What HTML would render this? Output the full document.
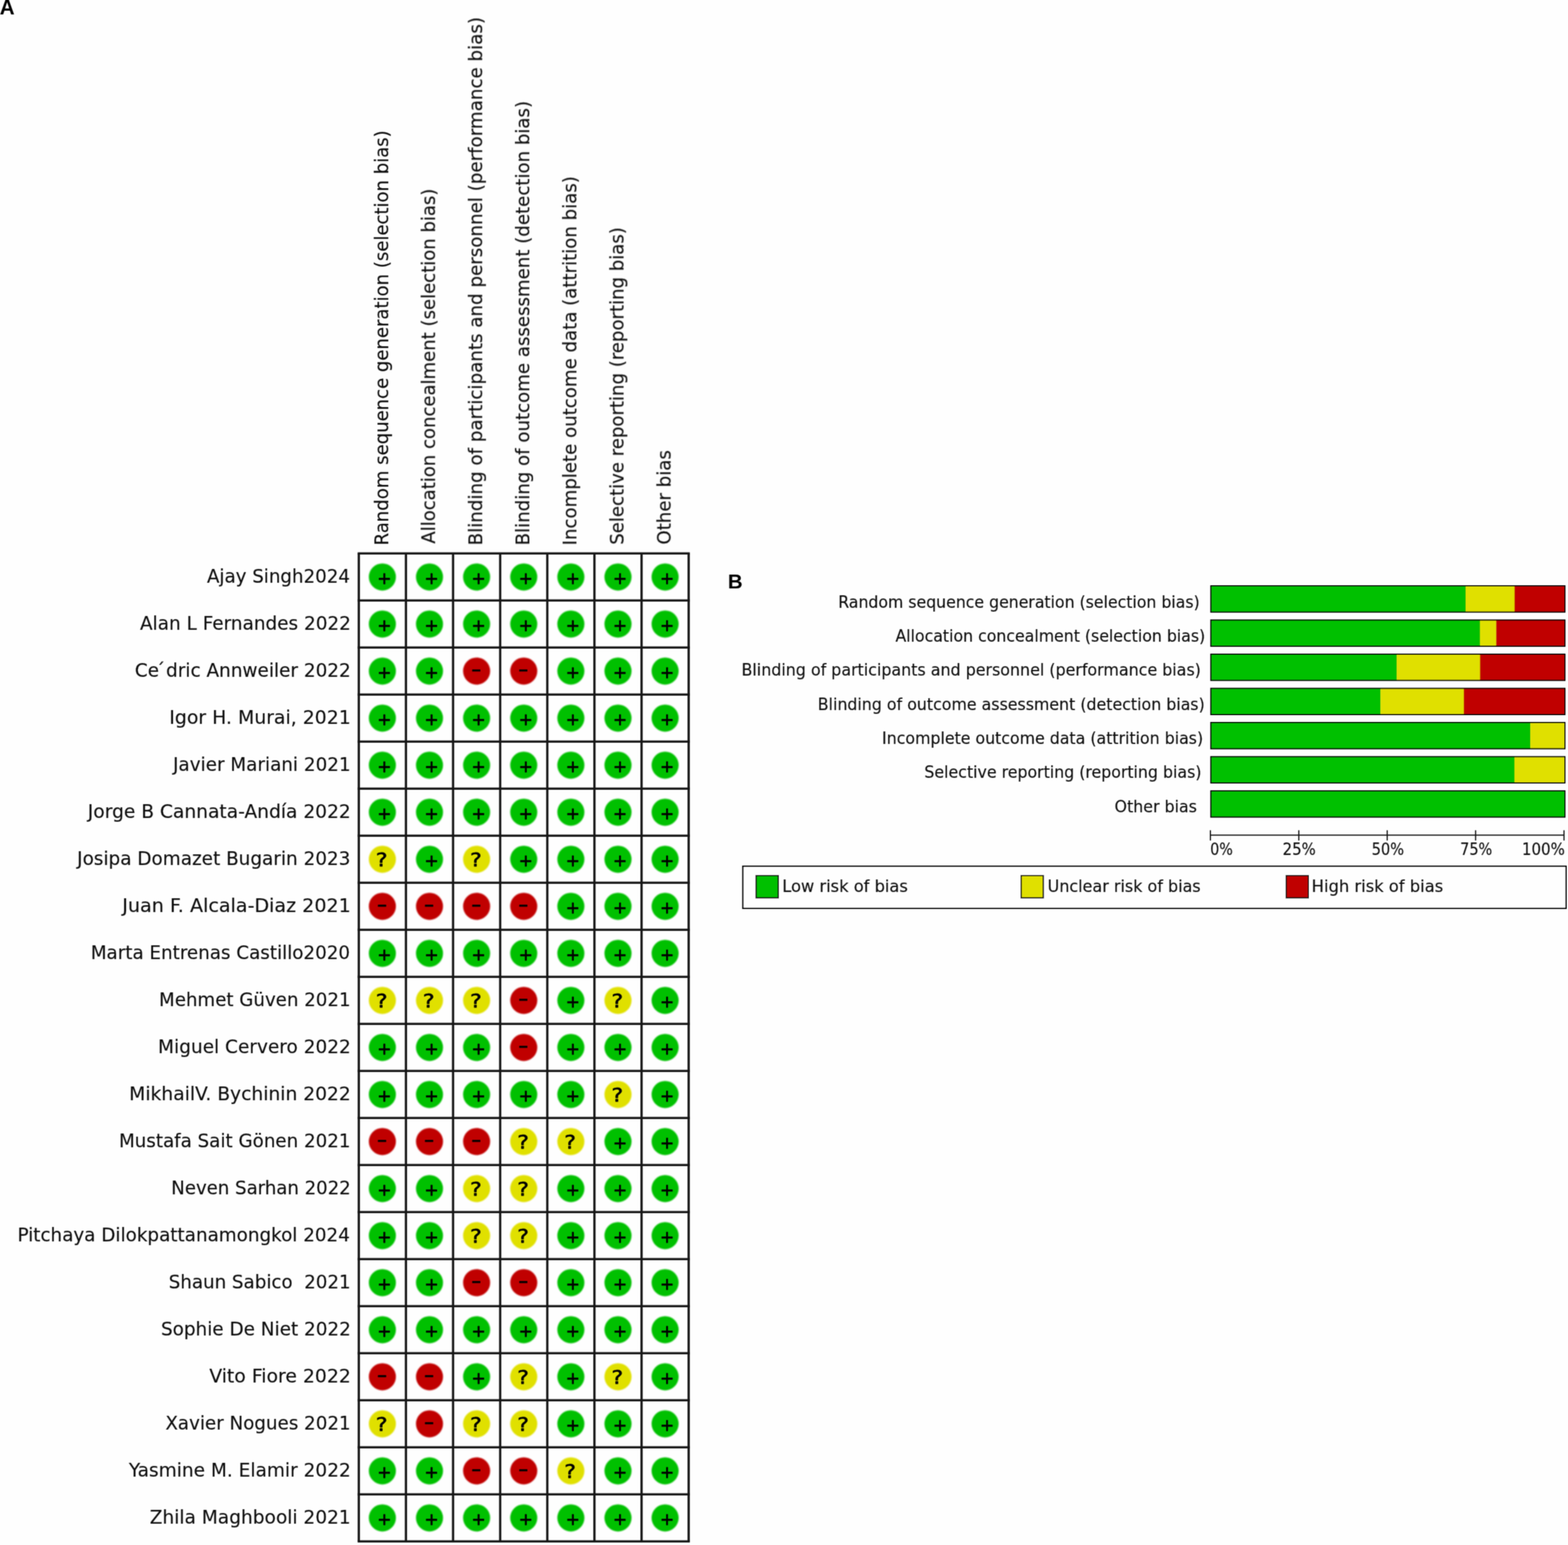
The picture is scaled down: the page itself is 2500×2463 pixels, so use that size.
<!DOCTYPE html>
<html lang="en">
<head>
<meta charset="utf-8">
<title>Risk of bias summary and graph</title>
<style>
html,body{margin:0;padding:0;background:#fefefe;}
body{width:2500px;height:2463px;overflow:hidden;}
svg{display:block;}
text{font-family:"DejaVu Sans", "Liberation Sans", sans-serif;fill:#111111;stroke:#111111;stroke-width:0.2px;white-space:pre;}
.r{font-size:30px;}
.s{font-size:27px;}
.k{font-family:"Liberation Sans", "DejaVu Sans", sans-serif;font-weight:bold;font-size:31px;fill:#000;stroke:none;}
.y{fill:#000;stroke:#000;stroke-width:0.85px;stroke-linejoin:round;}
.g line{stroke:#151515;stroke-width:3.6;}
.G{fill:#00c000;}.Y{fill:#e0e000;}.R{fill:#c00000;}
</style>
</head>
<body>
<svg width="2500" height="2463" viewBox="0 0 2500 2463" role="img" aria-label="Risk of bias summary and graph">
<defs>
<filter id="fa" filterUnits="userSpaceOnUse" x="0" y="0" width="2500" height="2463"><feGaussianBlur stdDeviation="0.8"/></filter>
<filter id="ft" filterUnits="userSpaceOnUse" x="0" y="0" width="2500" height="2463"><feConvolveMatrix order="3" kernelMatrix="0.0400 0.1200 0.0400 0.1200 0.3600 0.1200 0.0400 0.1200 0.0400" edgeMode="duplicate" preserveAlpha="false"/></filter>
<filter id="fb" filterUnits="userSpaceOnUse" x="0" y="0" width="2500" height="2463"><feConvolveMatrix order="3" kernelMatrix="0.0256 0.1088 0.0256 0.1088 0.4624 0.1088 0.0256 0.1088 0.0256" edgeMode="duplicate" preserveAlpha="false"/></filter>
</defs>
<rect width="2500" height="2463" fill="#fefefe"/>
<g id="panel-a">
<g id="panel-a-labels" filter="url(#ft)">
<text class="r" transform="translate(329.96 929.10) scale(0.9692 1)">Ajay Singh2024</text>
<text class="r" transform="translate(223.26 1004.10) scale(0.9794 1)">Alan L Fernandes 2022</text>
<text class="r" transform="translate(214.88 1079.10) scale(0.9802 1)">Ce<tspan dx="-5">´</tspan><tspan dx="1.5">dric Annweiler 2022</tspan></text>
<text class="r" transform="translate(269.99 1154.10) scale(1.0027 1)">Igor H. Murai, 2021</text>
<text class="r" transform="translate(275.96 1229.10) scale(0.9758 1)">Javier Mariani 2021</text>
<text class="r" transform="translate(140.09 1304.10) scale(0.9903 1)">Jorge B Cannata-Andía 2022</text>
<text class="r" transform="translate(122.97 1379.10) scale(0.9792 1)">Josipa Domazet Bugarin 2023</text>
<text class="r" transform="translate(195.02 1454.10) scale(1.0147 1)">Juan F. Alcala-Diaz 2021</text>
<text class="r" transform="translate(144.68 1529.10) scale(0.9730 1)">Marta Entrenas Castillo2020</text>
<text class="r" transform="translate(253.60 1604.10) scale(0.9677 1)">Mehmet Güven 2021</text>
<text class="r" transform="translate(252.05 1679.10) scale(0.9837 1)">Miguel Cervero 2022</text>
<text class="r" transform="translate(206.12 1754.10) scale(0.9933 1)">MikhailV. Bychinin 2022</text>
<text class="r" transform="translate(189.68 1829.10) scale(0.9717 1)">Mustafa Sait Gönen 2021</text>
<text class="r" transform="translate(273.11 1904.10) scale(0.9631 1)">Neven Sarhan 2022</text>
<text class="r" transform="translate(27.98 1979.10) scale(0.9747 1)">Pitchaya Dilokpattanamongkol 2024</text>
<text class="r" transform="translate(268.96 2054.10) scale(0.9706 1)">Shaun Sabico  2021</text>
<text class="r" transform="translate(256.64 2129.10) scale(0.9775 1)">Sophie De Niet 2022</text>
<text class="r" transform="translate(333.65 2204.10) scale(1.0004 1)">Vito Fiore 2022</text>
<text class="r" transform="translate(263.63 2279.10) scale(0.9714 1)">Xavier Nogues 2021</text>
<text class="r" transform="translate(205.50 2354.10) scale(0.9853 1)">Yasmine M. Elamir 2022</text>
<text class="r" transform="translate(238.77 2429.10) scale(0.9867 1)">Zhila Maghbooli 2021</text>
</g>
<g id="panel-a-heads" filter="url(#ft)">
<text class="r" transform="translate(618.56 869.38) rotate(-90) scale(0.9598 1)">Random sequence generation (selection bias)</text>
<text class="r" transform="translate(693.70 866.74) rotate(-90) scale(0.9596 1)">Allocation concealment (selection bias)</text>
<text class="r" transform="translate(768.82 869.41) rotate(-90) scale(0.9704 1)">Blinding of participants and personnel (performance bias)</text>
<text class="r" transform="translate(843.96 869.40) rotate(-90) scale(0.9656 1)">Blinding of outcome assessment (detection bias)</text>
<text class="r" transform="translate(919.08 869.40) rotate(-90) scale(0.9651 1)">Incomplete outcome data (attrition bias)</text>
<text class="r" transform="translate(994.22 868.42) rotate(-90) scale(0.9623 1)">Selective reporting (reporting bias)</text>
<text class="r" transform="translate(1069.35 868.19) rotate(-90) scale(0.9647 1)">Other bias</text>
</g>
<g class="g" id="grid" filter="url(#ft)">
<line x1="570.30" y1="882.30" x2="1099.81" y2="882.30" stroke="#303030"/>
<line x1="570.30" y1="957.30" x2="1099.81" y2="957.30"/>
<line x1="570.30" y1="1032.30" x2="1099.81" y2="1032.30"/>
<line x1="570.30" y1="1107.30" x2="1099.81" y2="1107.30"/>
<line x1="570.30" y1="1182.30" x2="1099.81" y2="1182.30"/>
<line x1="570.30" y1="1257.30" x2="1099.81" y2="1257.30"/>
<line x1="570.30" y1="1332.30" x2="1099.81" y2="1332.30"/>
<line x1="570.30" y1="1407.30" x2="1099.81" y2="1407.30"/>
<line x1="570.30" y1="1482.30" x2="1099.81" y2="1482.30"/>
<line x1="570.30" y1="1557.30" x2="1099.81" y2="1557.30"/>
<line x1="570.30" y1="1632.30" x2="1099.81" y2="1632.30"/>
<line x1="570.30" y1="1707.30" x2="1099.81" y2="1707.30"/>
<line x1="570.30" y1="1782.30" x2="1099.81" y2="1782.30"/>
<line x1="570.30" y1="1857.30" x2="1099.81" y2="1857.30"/>
<line x1="570.30" y1="1932.30" x2="1099.81" y2="1932.30"/>
<line x1="570.30" y1="2007.30" x2="1099.81" y2="2007.30"/>
<line x1="570.30" y1="2082.30" x2="1099.81" y2="2082.30"/>
<line x1="570.30" y1="2157.30" x2="1099.81" y2="2157.30"/>
<line x1="570.30" y1="2232.30" x2="1099.81" y2="2232.30"/>
<line x1="570.30" y1="2307.30" x2="1099.81" y2="2307.30"/>
<line x1="570.30" y1="2382.30" x2="1099.81" y2="2382.30"/>
<line x1="570.30" y1="2457.30" x2="1099.81" y2="2457.30" stroke="#7c7c7c"/>
<line x1="572.10" y1="882.30" x2="572.10" y2="2457.30" stroke="#303030"/>
<line x1="647.23" y1="882.30" x2="647.23" y2="2457.30"/>
<line x1="722.36" y1="882.30" x2="722.36" y2="2457.30"/>
<line x1="797.49" y1="882.30" x2="797.49" y2="2457.30"/>
<line x1="872.62" y1="882.30" x2="872.62" y2="2457.30"/>
<line x1="947.75" y1="882.30" x2="947.75" y2="2457.30"/>
<line x1="1022.88" y1="882.30" x2="1022.88" y2="2457.30"/>
<line x1="1098.01" y1="882.30" x2="1098.01" y2="2457.30" stroke="#303030"/>
</g>
<g id="dots" filter="url(#fa)">
<circle class="G" cx="609.66" cy="919.80" r="21.6"/><circle class="G" cx="684.80" cy="919.80" r="21.6"/><circle class="G" cx="759.92" cy="919.80" r="21.6"/><circle class="G" cx="835.06" cy="919.80" r="21.6"/><circle class="G" cx="910.18" cy="919.80" r="21.6"/><circle class="G" cx="985.32" cy="919.80" r="21.6"/><circle class="G" cx="1060.44" cy="919.80" r="21.6"/>
<circle class="G" cx="609.66" cy="994.80" r="21.6"/><circle class="G" cx="684.80" cy="994.80" r="21.6"/><circle class="G" cx="759.92" cy="994.80" r="21.6"/><circle class="G" cx="835.06" cy="994.80" r="21.6"/><circle class="G" cx="910.18" cy="994.80" r="21.6"/><circle class="G" cx="985.32" cy="994.80" r="21.6"/><circle class="G" cx="1060.44" cy="994.80" r="21.6"/>
<circle class="G" cx="609.66" cy="1069.80" r="21.6"/><circle class="G" cx="684.80" cy="1069.80" r="21.6"/><circle class="R" cx="759.92" cy="1069.80" r="21.6"/><circle class="R" cx="835.06" cy="1069.80" r="21.6"/><circle class="G" cx="910.18" cy="1069.80" r="21.6"/><circle class="G" cx="985.32" cy="1069.80" r="21.6"/><circle class="G" cx="1060.44" cy="1069.80" r="21.6"/>
<circle class="G" cx="609.66" cy="1144.80" r="21.6"/><circle class="G" cx="684.80" cy="1144.80" r="21.6"/><circle class="G" cx="759.92" cy="1144.80" r="21.6"/><circle class="G" cx="835.06" cy="1144.80" r="21.6"/><circle class="G" cx="910.18" cy="1144.80" r="21.6"/><circle class="G" cx="985.32" cy="1144.80" r="21.6"/><circle class="G" cx="1060.44" cy="1144.80" r="21.6"/>
<circle class="G" cx="609.66" cy="1219.80" r="21.6"/><circle class="G" cx="684.80" cy="1219.80" r="21.6"/><circle class="G" cx="759.92" cy="1219.80" r="21.6"/><circle class="G" cx="835.06" cy="1219.80" r="21.6"/><circle class="G" cx="910.18" cy="1219.80" r="21.6"/><circle class="G" cx="985.32" cy="1219.80" r="21.6"/><circle class="G" cx="1060.44" cy="1219.80" r="21.6"/>
<circle class="G" cx="609.66" cy="1294.80" r="21.6"/><circle class="G" cx="684.80" cy="1294.80" r="21.6"/><circle class="G" cx="759.92" cy="1294.80" r="21.6"/><circle class="G" cx="835.06" cy="1294.80" r="21.6"/><circle class="G" cx="910.18" cy="1294.80" r="21.6"/><circle class="G" cx="985.32" cy="1294.80" r="21.6"/><circle class="G" cx="1060.44" cy="1294.80" r="21.6"/>
<circle class="Y" cx="609.66" cy="1369.80" r="21.6"/><circle class="G" cx="684.80" cy="1369.80" r="21.6"/><circle class="Y" cx="759.92" cy="1369.80" r="21.6"/><circle class="G" cx="835.06" cy="1369.80" r="21.6"/><circle class="G" cx="910.18" cy="1369.80" r="21.6"/><circle class="G" cx="985.32" cy="1369.80" r="21.6"/><circle class="G" cx="1060.44" cy="1369.80" r="21.6"/>
<circle class="R" cx="609.66" cy="1444.80" r="21.6"/><circle class="R" cx="684.80" cy="1444.80" r="21.6"/><circle class="R" cx="759.92" cy="1444.80" r="21.6"/><circle class="R" cx="835.06" cy="1444.80" r="21.6"/><circle class="G" cx="910.18" cy="1444.80" r="21.6"/><circle class="G" cx="985.32" cy="1444.80" r="21.6"/><circle class="G" cx="1060.44" cy="1444.80" r="21.6"/>
<circle class="G" cx="609.66" cy="1519.80" r="21.6"/><circle class="G" cx="684.80" cy="1519.80" r="21.6"/><circle class="G" cx="759.92" cy="1519.80" r="21.6"/><circle class="G" cx="835.06" cy="1519.80" r="21.6"/><circle class="G" cx="910.18" cy="1519.80" r="21.6"/><circle class="G" cx="985.32" cy="1519.80" r="21.6"/><circle class="G" cx="1060.44" cy="1519.80" r="21.6"/>
<circle class="Y" cx="609.66" cy="1594.80" r="21.6"/><circle class="Y" cx="684.80" cy="1594.80" r="21.6"/><circle class="Y" cx="759.92" cy="1594.80" r="21.6"/><circle class="R" cx="835.06" cy="1594.80" r="21.6"/><circle class="G" cx="910.18" cy="1594.80" r="21.6"/><circle class="Y" cx="985.32" cy="1594.80" r="21.6"/><circle class="G" cx="1060.44" cy="1594.80" r="21.6"/>
<circle class="G" cx="609.66" cy="1669.80" r="21.6"/><circle class="G" cx="684.80" cy="1669.80" r="21.6"/><circle class="G" cx="759.92" cy="1669.80" r="21.6"/><circle class="R" cx="835.06" cy="1669.80" r="21.6"/><circle class="G" cx="910.18" cy="1669.80" r="21.6"/><circle class="G" cx="985.32" cy="1669.80" r="21.6"/><circle class="G" cx="1060.44" cy="1669.80" r="21.6"/>
<circle class="G" cx="609.66" cy="1744.80" r="21.6"/><circle class="G" cx="684.80" cy="1744.80" r="21.6"/><circle class="G" cx="759.92" cy="1744.80" r="21.6"/><circle class="G" cx="835.06" cy="1744.80" r="21.6"/><circle class="G" cx="910.18" cy="1744.80" r="21.6"/><circle class="Y" cx="985.32" cy="1744.80" r="21.6"/><circle class="G" cx="1060.44" cy="1744.80" r="21.6"/>
<circle class="R" cx="609.66" cy="1819.80" r="21.6"/><circle class="R" cx="684.80" cy="1819.80" r="21.6"/><circle class="R" cx="759.92" cy="1819.80" r="21.6"/><circle class="Y" cx="835.06" cy="1819.80" r="21.6"/><circle class="Y" cx="910.18" cy="1819.80" r="21.6"/><circle class="G" cx="985.32" cy="1819.80" r="21.6"/><circle class="G" cx="1060.44" cy="1819.80" r="21.6"/>
<circle class="G" cx="609.66" cy="1894.80" r="21.6"/><circle class="G" cx="684.80" cy="1894.80" r="21.6"/><circle class="Y" cx="759.92" cy="1894.80" r="21.6"/><circle class="Y" cx="835.06" cy="1894.80" r="21.6"/><circle class="G" cx="910.18" cy="1894.80" r="21.6"/><circle class="G" cx="985.32" cy="1894.80" r="21.6"/><circle class="G" cx="1060.44" cy="1894.80" r="21.6"/>
<circle class="G" cx="609.66" cy="1969.80" r="21.6"/><circle class="G" cx="684.80" cy="1969.80" r="21.6"/><circle class="Y" cx="759.92" cy="1969.80" r="21.6"/><circle class="Y" cx="835.06" cy="1969.80" r="21.6"/><circle class="G" cx="910.18" cy="1969.80" r="21.6"/><circle class="G" cx="985.32" cy="1969.80" r="21.6"/><circle class="G" cx="1060.44" cy="1969.80" r="21.6"/>
<circle class="G" cx="609.66" cy="2044.80" r="21.6"/><circle class="G" cx="684.80" cy="2044.80" r="21.6"/><circle class="R" cx="759.92" cy="2044.80" r="21.6"/><circle class="R" cx="835.06" cy="2044.80" r="21.6"/><circle class="G" cx="910.18" cy="2044.80" r="21.6"/><circle class="G" cx="985.32" cy="2044.80" r="21.6"/><circle class="G" cx="1060.44" cy="2044.80" r="21.6"/>
<circle class="G" cx="609.66" cy="2119.80" r="21.6"/><circle class="G" cx="684.80" cy="2119.80" r="21.6"/><circle class="G" cx="759.92" cy="2119.80" r="21.6"/><circle class="G" cx="835.06" cy="2119.80" r="21.6"/><circle class="G" cx="910.18" cy="2119.80" r="21.6"/><circle class="G" cx="985.32" cy="2119.80" r="21.6"/><circle class="G" cx="1060.44" cy="2119.80" r="21.6"/>
<circle class="R" cx="609.66" cy="2194.80" r="21.6"/><circle class="R" cx="684.80" cy="2194.80" r="21.6"/><circle class="G" cx="759.92" cy="2194.80" r="21.6"/><circle class="Y" cx="835.06" cy="2194.80" r="21.6"/><circle class="G" cx="910.18" cy="2194.80" r="21.6"/><circle class="Y" cx="985.32" cy="2194.80" r="21.6"/><circle class="G" cx="1060.44" cy="2194.80" r="21.6"/>
<circle class="Y" cx="609.66" cy="2269.80" r="21.6"/><circle class="R" cx="684.80" cy="2269.80" r="21.6"/><circle class="Y" cx="759.92" cy="2269.80" r="21.6"/><circle class="Y" cx="835.06" cy="2269.80" r="21.6"/><circle class="G" cx="910.18" cy="2269.80" r="21.6"/><circle class="G" cx="985.32" cy="2269.80" r="21.6"/><circle class="G" cx="1060.44" cy="2269.80" r="21.6"/>
<circle class="G" cx="609.66" cy="2344.80" r="21.6"/><circle class="G" cx="684.80" cy="2344.80" r="21.6"/><circle class="R" cx="759.92" cy="2344.80" r="21.6"/><circle class="R" cx="835.06" cy="2344.80" r="21.6"/><circle class="Y" cx="910.18" cy="2344.80" r="21.6"/><circle class="G" cx="985.32" cy="2344.80" r="21.6"/><circle class="G" cx="1060.44" cy="2344.80" r="21.6"/>
<circle class="G" cx="609.66" cy="2419.80" r="21.6"/><circle class="G" cx="684.80" cy="2419.80" r="21.6"/><circle class="G" cx="759.92" cy="2419.80" r="21.6"/><circle class="G" cx="835.06" cy="2419.80" r="21.6"/><circle class="G" cx="910.18" cy="2419.80" r="21.6"/><circle class="G" cx="985.32" cy="2419.80" r="21.6"/><circle class="G" cx="1060.44" cy="2419.80" r="21.6"/>
</g>
<g id="marks" filter="url(#ft)">
<text class="y" font-size="26" transform="translate(601.50 930.52) scale(1.0400 1)">+</text>
<text class="y" font-size="26" transform="translate(676.64 930.52) scale(1.0400 1)">+</text>
<text class="y" font-size="26" transform="translate(751.76 930.52) scale(1.0400 1)">+</text>
<text class="y" font-size="26" transform="translate(826.90 930.52) scale(1.0400 1)">+</text>
<text class="y" font-size="26" transform="translate(902.02 930.52) scale(1.0400 1)">+</text>
<text class="y" font-size="26" transform="translate(977.16 930.52) scale(1.0400 1)">+</text>
<text class="y" font-size="26" transform="translate(1052.29 930.52) scale(1.0400 1)">+</text>
<text class="y" font-size="26" transform="translate(601.50 1005.52) scale(1.0400 1)">+</text>
<text class="y" font-size="26" transform="translate(676.64 1005.52) scale(1.0400 1)">+</text>
<text class="y" font-size="26" transform="translate(751.76 1005.52) scale(1.0400 1)">+</text>
<text class="y" font-size="26" transform="translate(826.90 1005.52) scale(1.0400 1)">+</text>
<text class="y" font-size="26" transform="translate(902.02 1005.52) scale(1.0400 1)">+</text>
<text class="y" font-size="26" transform="translate(977.16 1005.52) scale(1.0400 1)">+</text>
<text class="y" font-size="26" transform="translate(1052.29 1005.52) scale(1.0400 1)">+</text>
<text class="y" font-size="26" transform="translate(601.50 1080.52) scale(1.0400 1)">+</text>
<text class="y" font-size="26" transform="translate(676.64 1080.52) scale(1.0400 1)">+</text>
<text class="y" font-size="26" transform="translate(750.91 1077.22) scale(0.7692 1)">−</text>
<text class="y" font-size="26" transform="translate(826.04 1077.22) scale(0.7692 1)">−</text>
<text class="y" font-size="26" transform="translate(902.02 1080.52) scale(1.0400 1)">+</text>
<text class="y" font-size="26" transform="translate(977.16 1080.52) scale(1.0400 1)">+</text>
<text class="y" font-size="26" transform="translate(1052.29 1080.52) scale(1.0400 1)">+</text>
<text class="y" font-size="26" transform="translate(601.50 1155.52) scale(1.0400 1)">+</text>
<text class="y" font-size="26" transform="translate(676.64 1155.52) scale(1.0400 1)">+</text>
<text class="y" font-size="26" transform="translate(751.76 1155.52) scale(1.0400 1)">+</text>
<text class="y" font-size="26" transform="translate(826.90 1155.52) scale(1.0400 1)">+</text>
<text class="y" font-size="26" transform="translate(902.02 1155.52) scale(1.0400 1)">+</text>
<text class="y" font-size="26" transform="translate(977.16 1155.52) scale(1.0400 1)">+</text>
<text class="y" font-size="26" transform="translate(1052.29 1155.52) scale(1.0400 1)">+</text>
<text class="y" font-size="26" transform="translate(601.50 1230.52) scale(1.0400 1)">+</text>
<text class="y" font-size="26" transform="translate(676.64 1230.52) scale(1.0400 1)">+</text>
<text class="y" font-size="26" transform="translate(751.76 1230.52) scale(1.0400 1)">+</text>
<text class="y" font-size="26" transform="translate(826.90 1230.52) scale(1.0400 1)">+</text>
<text class="y" font-size="26" transform="translate(902.02 1230.52) scale(1.0400 1)">+</text>
<text class="y" font-size="26" transform="translate(977.16 1230.52) scale(1.0400 1)">+</text>
<text class="y" font-size="26" transform="translate(1052.29 1230.52) scale(1.0400 1)">+</text>
<text class="y" font-size="26" transform="translate(601.50 1305.52) scale(1.0400 1)">+</text>
<text class="y" font-size="26" transform="translate(676.64 1305.52) scale(1.0400 1)">+</text>
<text class="y" font-size="26" transform="translate(751.76 1305.52) scale(1.0400 1)">+</text>
<text class="y" font-size="26" transform="translate(826.90 1305.52) scale(1.0400 1)">+</text>
<text class="y" font-size="26" transform="translate(902.02 1305.52) scale(1.0400 1)">+</text>
<text class="y" font-size="26" transform="translate(977.16 1305.52) scale(1.0400 1)">+</text>
<text class="y" font-size="26" transform="translate(1052.29 1305.52) scale(1.0400 1)">+</text>
<text class="y" font-size="30" transform="translate(599.24 1381.12) scale(1.1652 1)">?</text>
<text class="y" font-size="26" transform="translate(676.64 1380.52) scale(1.0400 1)">+</text>
<text class="y" font-size="30" transform="translate(749.50 1381.12) scale(1.1652 1)">?</text>
<text class="y" font-size="26" transform="translate(826.90 1380.52) scale(1.0400 1)">+</text>
<text class="y" font-size="26" transform="translate(902.02 1380.52) scale(1.0400 1)">+</text>
<text class="y" font-size="26" transform="translate(977.16 1380.52) scale(1.0400 1)">+</text>
<text class="y" font-size="26" transform="translate(1052.29 1380.52) scale(1.0400 1)">+</text>
<text class="y" font-size="26" transform="translate(600.65 1452.22) scale(0.7692 1)">−</text>
<text class="y" font-size="26" transform="translate(675.78 1452.22) scale(0.7692 1)">−</text>
<text class="y" font-size="26" transform="translate(750.91 1452.22) scale(0.7692 1)">−</text>
<text class="y" font-size="26" transform="translate(826.04 1452.22) scale(0.7692 1)">−</text>
<text class="y" font-size="26" transform="translate(902.02 1455.52) scale(1.0400 1)">+</text>
<text class="y" font-size="26" transform="translate(977.16 1455.52) scale(1.0400 1)">+</text>
<text class="y" font-size="26" transform="translate(1052.29 1455.52) scale(1.0400 1)">+</text>
<text class="y" font-size="26" transform="translate(601.50 1530.52) scale(1.0400 1)">+</text>
<text class="y" font-size="26" transform="translate(676.64 1530.52) scale(1.0400 1)">+</text>
<text class="y" font-size="26" transform="translate(751.76 1530.52) scale(1.0400 1)">+</text>
<text class="y" font-size="26" transform="translate(826.90 1530.52) scale(1.0400 1)">+</text>
<text class="y" font-size="26" transform="translate(902.02 1530.52) scale(1.0400 1)">+</text>
<text class="y" font-size="26" transform="translate(977.16 1530.52) scale(1.0400 1)">+</text>
<text class="y" font-size="26" transform="translate(1052.29 1530.52) scale(1.0400 1)">+</text>
<text class="y" font-size="30" transform="translate(599.24 1606.12) scale(1.1652 1)">?</text>
<text class="y" font-size="30" transform="translate(674.37 1606.12) scale(1.1652 1)">?</text>
<text class="y" font-size="30" transform="translate(749.50 1606.12) scale(1.1652 1)">?</text>
<text class="y" font-size="26" transform="translate(826.04 1602.22) scale(0.7692 1)">−</text>
<text class="y" font-size="26" transform="translate(902.02 1605.52) scale(1.0400 1)">+</text>
<text class="y" font-size="30" transform="translate(974.89 1606.12) scale(1.1652 1)">?</text>
<text class="y" font-size="26" transform="translate(1052.29 1605.52) scale(1.0400 1)">+</text>
<text class="y" font-size="26" transform="translate(601.50 1680.52) scale(1.0400 1)">+</text>
<text class="y" font-size="26" transform="translate(676.64 1680.52) scale(1.0400 1)">+</text>
<text class="y" font-size="26" transform="translate(751.76 1680.52) scale(1.0400 1)">+</text>
<text class="y" font-size="26" transform="translate(826.04 1677.22) scale(0.7692 1)">−</text>
<text class="y" font-size="26" transform="translate(902.02 1680.52) scale(1.0400 1)">+</text>
<text class="y" font-size="26" transform="translate(977.16 1680.52) scale(1.0400 1)">+</text>
<text class="y" font-size="26" transform="translate(1052.29 1680.52) scale(1.0400 1)">+</text>
<text class="y" font-size="26" transform="translate(601.50 1755.52) scale(1.0400 1)">+</text>
<text class="y" font-size="26" transform="translate(676.64 1755.52) scale(1.0400 1)">+</text>
<text class="y" font-size="26" transform="translate(751.76 1755.52) scale(1.0400 1)">+</text>
<text class="y" font-size="26" transform="translate(826.90 1755.52) scale(1.0400 1)">+</text>
<text class="y" font-size="26" transform="translate(902.02 1755.52) scale(1.0400 1)">+</text>
<text class="y" font-size="30" transform="translate(974.89 1756.12) scale(1.1652 1)">?</text>
<text class="y" font-size="26" transform="translate(1052.29 1755.52) scale(1.0400 1)">+</text>
<text class="y" font-size="26" transform="translate(600.65 1827.22) scale(0.7692 1)">−</text>
<text class="y" font-size="26" transform="translate(675.78 1827.22) scale(0.7692 1)">−</text>
<text class="y" font-size="26" transform="translate(750.91 1827.22) scale(0.7692 1)">−</text>
<text class="y" font-size="30" transform="translate(824.63 1831.12) scale(1.1652 1)">?</text>
<text class="y" font-size="30" transform="translate(899.76 1831.12) scale(1.1652 1)">?</text>
<text class="y" font-size="26" transform="translate(977.16 1830.52) scale(1.0400 1)">+</text>
<text class="y" font-size="26" transform="translate(1052.29 1830.52) scale(1.0400 1)">+</text>
<text class="y" font-size="26" transform="translate(601.50 1905.52) scale(1.0400 1)">+</text>
<text class="y" font-size="26" transform="translate(676.64 1905.52) scale(1.0400 1)">+</text>
<text class="y" font-size="30" transform="translate(749.50 1906.12) scale(1.1652 1)">?</text>
<text class="y" font-size="30" transform="translate(824.63 1906.12) scale(1.1652 1)">?</text>
<text class="y" font-size="26" transform="translate(902.02 1905.52) scale(1.0400 1)">+</text>
<text class="y" font-size="26" transform="translate(977.16 1905.52) scale(1.0400 1)">+</text>
<text class="y" font-size="26" transform="translate(1052.29 1905.52) scale(1.0400 1)">+</text>
<text class="y" font-size="26" transform="translate(601.50 1980.52) scale(1.0400 1)">+</text>
<text class="y" font-size="26" transform="translate(676.64 1980.52) scale(1.0400 1)">+</text>
<text class="y" font-size="30" transform="translate(749.50 1981.12) scale(1.1652 1)">?</text>
<text class="y" font-size="30" transform="translate(824.63 1981.12) scale(1.1652 1)">?</text>
<text class="y" font-size="26" transform="translate(902.02 1980.52) scale(1.0400 1)">+</text>
<text class="y" font-size="26" transform="translate(977.16 1980.52) scale(1.0400 1)">+</text>
<text class="y" font-size="26" transform="translate(1052.29 1980.52) scale(1.0400 1)">+</text>
<text class="y" font-size="26" transform="translate(601.50 2055.52) scale(1.0400 1)">+</text>
<text class="y" font-size="26" transform="translate(676.64 2055.52) scale(1.0400 1)">+</text>
<text class="y" font-size="26" transform="translate(750.91 2052.22) scale(0.7692 1)">−</text>
<text class="y" font-size="26" transform="translate(826.04 2052.22) scale(0.7692 1)">−</text>
<text class="y" font-size="26" transform="translate(902.02 2055.52) scale(1.0400 1)">+</text>
<text class="y" font-size="26" transform="translate(977.16 2055.52) scale(1.0400 1)">+</text>
<text class="y" font-size="26" transform="translate(1052.29 2055.52) scale(1.0400 1)">+</text>
<text class="y" font-size="26" transform="translate(601.50 2130.53) scale(1.0400 1)">+</text>
<text class="y" font-size="26" transform="translate(676.64 2130.53) scale(1.0400 1)">+</text>
<text class="y" font-size="26" transform="translate(751.76 2130.53) scale(1.0400 1)">+</text>
<text class="y" font-size="26" transform="translate(826.90 2130.53) scale(1.0400 1)">+</text>
<text class="y" font-size="26" transform="translate(902.02 2130.53) scale(1.0400 1)">+</text>
<text class="y" font-size="26" transform="translate(977.16 2130.53) scale(1.0400 1)">+</text>
<text class="y" font-size="26" transform="translate(1052.29 2130.53) scale(1.0400 1)">+</text>
<text class="y" font-size="26" transform="translate(600.65 2202.23) scale(0.7692 1)">−</text>
<text class="y" font-size="26" transform="translate(675.78 2202.23) scale(0.7692 1)">−</text>
<text class="y" font-size="26" transform="translate(751.76 2205.53) scale(1.0400 1)">+</text>
<text class="y" font-size="30" transform="translate(824.63 2206.12) scale(1.1652 1)">?</text>
<text class="y" font-size="26" transform="translate(902.02 2205.53) scale(1.0400 1)">+</text>
<text class="y" font-size="30" transform="translate(974.89 2206.12) scale(1.1652 1)">?</text>
<text class="y" font-size="26" transform="translate(1052.29 2205.53) scale(1.0400 1)">+</text>
<text class="y" font-size="30" transform="translate(599.24 2281.12) scale(1.1652 1)">?</text>
<text class="y" font-size="26" transform="translate(675.78 2277.23) scale(0.7692 1)">−</text>
<text class="y" font-size="30" transform="translate(749.50 2281.12) scale(1.1652 1)">?</text>
<text class="y" font-size="30" transform="translate(824.63 2281.12) scale(1.1652 1)">?</text>
<text class="y" font-size="26" transform="translate(902.02 2280.53) scale(1.0400 1)">+</text>
<text class="y" font-size="26" transform="translate(977.16 2280.53) scale(1.0400 1)">+</text>
<text class="y" font-size="26" transform="translate(1052.29 2280.53) scale(1.0400 1)">+</text>
<text class="y" font-size="26" transform="translate(601.50 2355.53) scale(1.0400 1)">+</text>
<text class="y" font-size="26" transform="translate(676.64 2355.53) scale(1.0400 1)">+</text>
<text class="y" font-size="26" transform="translate(750.91 2352.23) scale(0.7692 1)">−</text>
<text class="y" font-size="26" transform="translate(826.04 2352.23) scale(0.7692 1)">−</text>
<text class="y" font-size="30" transform="translate(899.76 2356.12) scale(1.1652 1)">?</text>
<text class="y" font-size="26" transform="translate(977.16 2355.53) scale(1.0400 1)">+</text>
<text class="y" font-size="26" transform="translate(1052.29 2355.53) scale(1.0400 1)">+</text>
<text class="y" font-size="26" transform="translate(601.50 2430.53) scale(1.0400 1)">+</text>
<text class="y" font-size="26" transform="translate(676.64 2430.53) scale(1.0400 1)">+</text>
<text class="y" font-size="26" transform="translate(751.76 2430.53) scale(1.0400 1)">+</text>
<text class="y" font-size="26" transform="translate(826.90 2430.53) scale(1.0400 1)">+</text>
<text class="y" font-size="26" transform="translate(902.02 2430.53) scale(1.0400 1)">+</text>
<text class="y" font-size="26" transform="translate(977.16 2430.53) scale(1.0400 1)">+</text>
<text class="y" font-size="26" transform="translate(1052.29 2430.53) scale(1.0400 1)">+</text>
</g>
<g filter="url(#ft)"><text class="k" transform="translate(-0.60 22.80) scale(1.0651 1.06)">A</text>
</g>
</g>
<g id="panel-b">
<g id="panel-b-labels" filter="url(#ft)">
<text class="s" transform="translate(1336.45 968.60) scale(0.9288 1)">Random sequence generation (selection bias)</text>
<text class="s" transform="translate(1427.67 1022.97) scale(0.9306 1)">Allocation concealment (selection bias)</text>
<text class="s" transform="translate(1182.22 1077.34) scale(0.9379 1)">Blinding of participants and personnel (performance bias)</text>
<text class="s" transform="translate(1303.83 1131.71) scale(0.9343 1)">Blinding of outcome assessment (detection bias)</text>
<text class="s" transform="translate(1406.34 1186.08) scale(0.9325 1)">Incomplete outcome data (attrition bias)</text>
<text class="s" transform="translate(1473.87 1240.45) scale(0.9326 1)">Selective reporting (reporting bias)</text>
<text class="s" transform="translate(1777.10 1294.82) scale(0.9358 1)">Other bias</text>
</g>
<g id="bars" filter="url(#fb)">
<rect class="G" x="1930.60" y="934.00" width="406.70" height="41.70"/><rect class="Y" x="2337.00" y="934.00" width="78.00" height="41.70"/><rect class="R" x="2414.70" y="934.00" width="80.30" height="41.70"/><rect x="1930.60" y="934.00" width="564.40" height="41.70" fill="none" stroke="#000" stroke-width="1.9"/>
<rect class="G" x="1930.60" y="988.47" width="429.40" height="41.70"/><rect class="Y" x="2359.70" y="988.47" width="26.10" height="41.70"/><rect class="R" x="2385.50" y="988.47" width="109.50" height="41.70"/><rect x="1930.60" y="988.47" width="564.40" height="41.70" fill="none" stroke="#000" stroke-width="1.9"/>
<rect class="G" x="1930.60" y="1042.94" width="296.80" height="41.70"/><rect class="Y" x="2227.10" y="1042.94" width="132.90" height="41.70"/><rect class="R" x="2359.70" y="1042.94" width="135.30" height="41.70"/><rect x="1930.60" y="1042.94" width="564.40" height="41.70" fill="none" stroke="#000" stroke-width="1.9"/>
<rect class="G" x="1930.60" y="1097.41" width="270.90" height="41.70"/><rect class="Y" x="2201.20" y="1097.41" width="132.90" height="41.70"/><rect class="R" x="2333.80" y="1097.41" width="161.20" height="41.70"/><rect x="1930.60" y="1097.41" width="564.40" height="41.70" fill="none" stroke="#000" stroke-width="1.9"/>
<rect class="G" x="1930.60" y="1151.88" width="509.80" height="41.70"/><rect class="Y" x="2440.10" y="1151.88" width="54.90" height="41.70"/><rect x="1930.60" y="1151.88" width="564.40" height="41.70" fill="none" stroke="#000" stroke-width="1.9"/>
<rect class="G" x="1930.60" y="1206.35" width="484.40" height="41.70"/><rect class="Y" x="2414.70" y="1206.35" width="80.30" height="41.70"/><rect x="1930.60" y="1206.35" width="564.40" height="41.70" fill="none" stroke="#000" stroke-width="1.9"/>
<rect class="G" x="1930.60" y="1260.82" width="564.40" height="41.70"/><rect x="1930.60" y="1260.82" width="564.40" height="41.70" fill="none" stroke="#000" stroke-width="1.9"/>
</g>
<g id="axis" stroke="#0a0a0a" stroke-width="1.8" fill="none" filter="url(#fb)">
<line x1="1929.8" y1="1331.4" x2="2493.6" y2="1331.4"/>
<line x1="1929.80" y1="1323.6" x2="1929.80" y2="1339.9"/>
<line x1="2070.75" y1="1323.6" x2="2070.75" y2="1339.9"/>
<line x1="2211.70" y1="1323.6" x2="2211.70" y2="1339.9"/>
<line x1="2352.65" y1="1323.6" x2="2352.65" y2="1339.9"/>
<line x1="2493.60" y1="1323.6" x2="2493.60" y2="1339.9"/>
</g>
<g id="axis-labels" filter="url(#ft)">
<text class="s" transform="translate(1929.52 1362.90) scale(0.8430 1)">0%</text>
<text class="s" transform="translate(2045.04 1362.90) scale(0.8796 1)">25%</text>
<text class="s" transform="translate(2186.98 1362.90) scale(0.8619 1)">50%</text>
<text class="s" transform="translate(2327.98 1362.90) scale(0.8551 1)">75%</text>
<text class="s" transform="translate(2426.54 1362.90) scale(0.8880 1)">100%</text>
</g>
<g id="legend-box" filter="url(#fb)">
<rect x="1184.4" y="1381.0" width="1312.5" height="67.0" fill="#fefefe" stroke="#000" stroke-width="2.2"/>
<rect x="1205.6" y="1395.9" width="35.2" height="35.4" fill="#00c000" stroke="#000" stroke-width="2"/>
<rect x="1628.2" y="1395.9" width="35.2" height="35.4" fill="#e0e000" stroke="#000" stroke-width="2"/>
<rect x="2050.8" y="1395.9" width="35.2" height="35.4" fill="#c00000" stroke="#000" stroke-width="2"/>
</g>
<g id="legend-labels" filter="url(#ft)">
<text class="s" transform="translate(1247.16 1421.90) scale(0.9614 1)">Low risk of bias</text>
<text class="s" transform="translate(1670.28 1421.90) scale(0.9434 1)">Unclear risk of bias</text>
<text class="s" transform="translate(2091.35 1421.90) scale(0.9651 1)">High risk of bias</text>
<text class="k" transform="translate(1160.49 937.60) scale(1.0526 1)">B</text>
</g>
</g>
</svg>
</body>
</html>
